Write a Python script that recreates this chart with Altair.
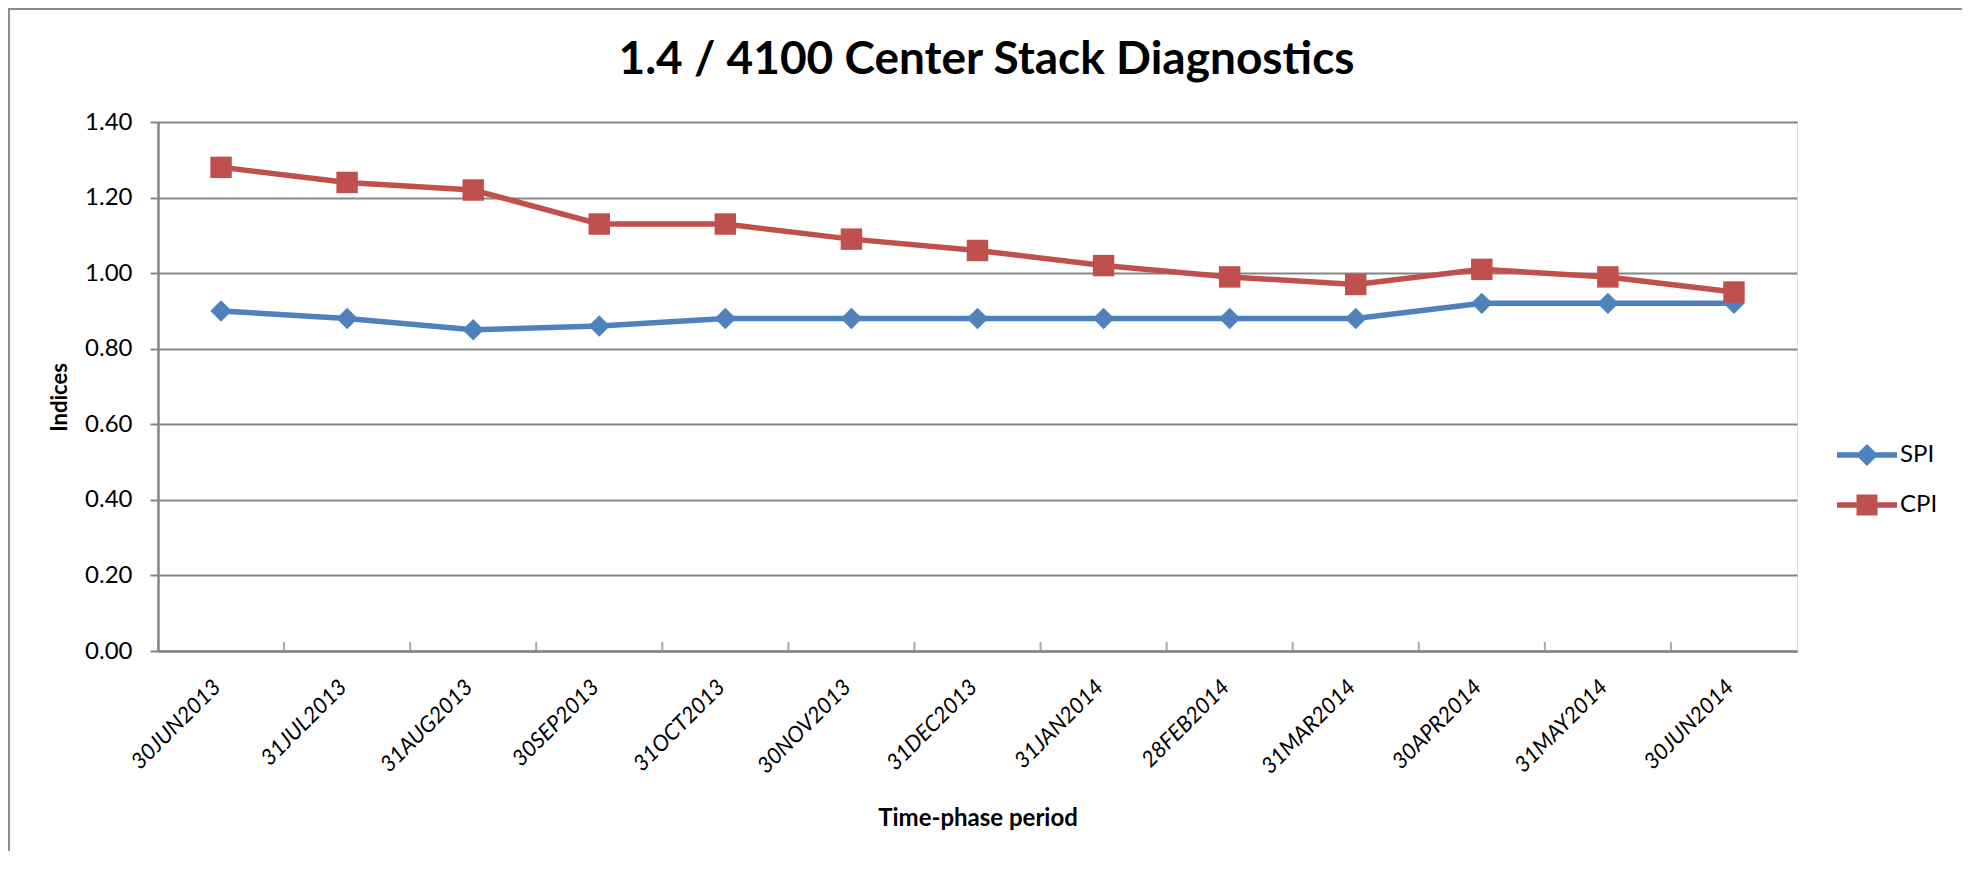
import altair as alt
import pandas as pd

periods = ["30JUN2013", "31JUL2013", "31AUG2013", "30SEP2013", "31OCT2013", "30NOV2013",
           "31DEC2013", "31JAN2014", "28FEB2014", "31MAR2014", "30APR2014", "31MAY2014", "30JUN2014"]
spi = [0.90, 0.88, 0.85, 0.86, 0.88, 0.88, 0.88, 0.88, 0.88, 0.88, 0.92, 0.92, 0.92]
cpi = [1.28, 1.24, 1.22, 1.13, 1.13, 1.09, 1.06, 1.02, 0.99, 0.97, 1.01, 0.99, 0.95]
series_names = ["SPI", "CPI"]
series_colors = ["#4F81BD", "#C0504D"]
series_shapes = ["diamond", "square"]
y_ticks = [0.0, 0.2, 0.4, 0.6, 0.8, 1.0, 1.2, 1.4]

# legend glyphs: a line with the series marker on it (unit box -1..1)
legend_glyphs = [
    "M-1,-0.09L1,-0.09L1,0.09L-1,0.09Z M0,-0.37L0.37,0L0,0.37L-0.37,0Z",
    "M-1,-0.09L1,-0.09L1,0.09L-1,0.09Z M-0.35,-0.35L0.35,-0.35L0.35,0.35L-0.35,0.35Z",
]

rows = []
for name, vals in zip(series_names, [spi, cpi]):
    for p, v in zip(periods, vals):
        rows.append({"period": p, "value": v, "series": name})
df = pd.DataFrame(rows)
tick_df = pd.DataFrame({"period": periods})

FONT = "Lato"
GRAY = "#868686"
W, H = 1639, 529

x_scale = alt.Scale(type="band", paddingInner=0, paddingOuter=0)
y_scale = alt.Scale(domain=[0, 1.4], nice=False)
color_scale = alt.Scale(domain=series_names, range=series_colors)

x_axis = alt.Axis(
    title="Time-phase period", ticks=False, tickSize=0, grid=False,
    domainColor=GRAY, domainWidth=2.5,
    labelAngle=315, labelAlign="right", labelBaseline="middle",
    labelFont=FONT, labelFontSize=22, labelFontStyle="italic", labelColor="#000000",
    labelPadding=32, labelOffset=-4,
    titleFont=FONT, titleFontSize=24, titleFontWeight="bold", titleColor="#000000",
    titleY=167, titleBaseline="middle",
)
y_axis = alt.Axis(
    title="Indices", values=y_ticks, format=".2f",
    grid=True, gridColor=GRAY, gridWidth=2,
    domainColor=GRAY, domainWidth=2.5,
    tickColor=GRAY, tickSize=8, tickWidth=2,
    labelFont=FONT, labelFontSize=24, labelColor="#000000", labelPadding=18,
    titleFont=FONT, titleFontSize=22, titleFontWeight="bold", titleColor="#000000",
    titleX=-99, titleY=275, titleAngle=270, titleAlign="center", titleBaseline="middle",
)

base = alt.Chart(df)
X = alt.X("period:N", sort=periods, scale=x_scale)
Y = alt.Y("value:Q", scale=y_scale)

lines = base.mark_line(strokeWidth=5.5).encode(
    x=alt.X("period:N", sort=periods, scale=x_scale, axis=x_axis),
    y=alt.Y("value:Q", scale=y_scale, axis=y_axis),
    color=alt.Color("series:N", scale=color_scale, legend=None),
)

point_layers = []
for name, shp in zip(series_names, series_shapes):
    point_layers.append(
        base.transform_filter(alt.datum.series == name)
        .mark_point(filled=True, size=460, opacity=1, strokeWidth=0, shape=shp)
        .encode(x=X, y=Y, color=alt.Color("series:N", scale=color_scale, legend=None))
    )

# one single-entry legend per series: line + marker glyph in the series colour
legend_layers = []
for i, (name, col, glyph) in enumerate(zip(series_names, series_colors, legend_glyphs)):
    lg = alt.Legend(
        title=None, orient="none", legendX=1679, legendY=303 + 50 * i, padding=0,
        symbolSize=3600, symbolStrokeWidth=0, symbolOpacity=1, symbolFillColor=col,
        labelFont=FONT, labelFontSize=24, labelColor="#000000", labelOffset=3,
    )
    legend_layers.append(
        base.transform_filter(alt.datum.series == name)
        .mark_point(filled=True, opacity=0, strokeWidth=0, color=col)
        .encode(
            x=X, y=Y,
            shape=alt.Shape("series:N", scale=alt.Scale(domain=[name], range=[glyph]), legend=lg),
        )
    )

xticks = alt.Chart(tick_df).mark_tick(orient="vertical", size=9, thickness=2, color=GRAY, yOffset=-4.5).encode(
    x=alt.X("period:N", sort=periods, scale=x_scale, bandPosition=0),
    y=alt.datum(0),
)

border = alt.Chart(pd.DataFrame({"k": [0]})).mark_rect(
    fillOpacity=0, stroke="#8c8c8c", strokeWidth=2
).encode(
    x=alt.value(-149), x2=alt.value(1806), y=alt.value(-113), y2=alt.value(760)
)

chart = alt.layer(border, lines, *point_layers, *legend_layers, xticks).resolve_scale(
    shape="independent"
).resolve_legend(shape="independent").properties(
    width=W, height=H,
    autosize=alt.AutoSizeParams(type="none"),
    padding={"left": 150, "top": 114, "right": 165, "bottom": 200},
    title=alt.Title(
        "1.4 / 4100 Center Stack Diagnostics",
        font=FONT, fontSize=46, fontWeight="bold", color="#000000",
        anchor="middle", dx=9, offset=-112, baseline="alphabetic",
    ),
).configure_view(stroke=None).configure(background="#ffffff")

chart.save("out.html", embed_options={"renderer": "svg", "actions": False})
